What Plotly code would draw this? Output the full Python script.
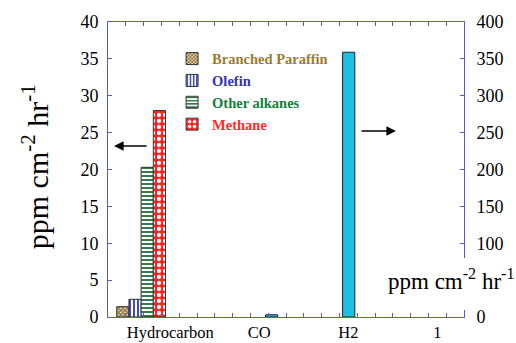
import plotly.graph_objects as go

categories = ["Hydrocarbon", "CO", "H2", "1"]
hc_series = ["Branched Paraffin", "Olefin", "Other alkanes", "Methane"]
hc_values = [1.4, 2.4, 20.3, 28.0]          # left axis, ppm cm^-2 hr^-1
gas_labels = ["CO", "H2"]
gas_values = [3.0, 359.0]                    # right axis, ppm cm^-2 hr^-1
left_ticks = [0, 5, 10, 15, 20, 25, 30, 35, 40]
right_ticks = [0, 100, 150, 200, 250, 300, 350, 400]

SERIF = "Liberation Serif"
AXC = "#5a5ac8"
BW = 0.137

styles = {
    "Branched Paraffin": dict(text="#9c7c2c", pat=dict(shape="x", fgcolor="#6e5526", bgcolor="#e6d6ac", size=3, solidity=0.5)),
    "Olefin": dict(text="#3535b0", pat=dict(shape="|", fgcolor="#2a35c0", bgcolor="white", size=4, solidity=0.45)),
    "Other alkanes": dict(text="#10803c", pat=dict(shape="-", fgcolor="#1f6b3a", bgcolor="white", size=4, solidity=0.45)),
    "Methane": dict(text="#ff2a2a", pat=dict(shape=".", fgcolor="white", bgcolor="#ff2020", size=6, solidity=0.4)),
}
hc_offsets = [-0.602, -0.465, -0.328, -0.191]

fig = go.Figure()
xpos = {c: i + 1 for i, c in enumerate(categories)}

for name, val, off in zip(hc_series, hc_values, hc_offsets):
    st = styles[name]
    fig.add_trace(go.Bar(
        x=[xpos["Hydrocarbon"]], y=[val], width=BW, offset=off,
        name=f"<span style='color:{st['text']}'>{name}</span>",
        marker=dict(color=st["pat"]["bgcolor"], pattern=dict(fillmode="replace", **st["pat"]),
                    line=dict(color="#333333", width=1)),
        yaxis="y", showlegend=True,
    ))

gas_offsets = {"CO": 0.07, "H2": -0.064}
for lab, val in zip(gas_labels, gas_values):
    fig.add_trace(go.Bar(
        x=[xpos[lab]], y=[val], width=BW, offset=gas_offsets[lab],
        marker=dict(color="#1ebfe0", line=dict(color="#222222", width=1)),
        yaxis="y2", showlegend=False,
    ))

minor_vals = [0.5 + 0.2 * k for k in range(19)]
TF = dict(family=SERIF, size=18, color="black")

fig.update_layout(
    width=516, height=343,
    margin=dict(l=108, r=52, t=22, b=26),
    paper_bgcolor="white", plot_bgcolor="white",
    barmode="overlay",
    font=dict(family=SERIF, size=17, color="black"),
    xaxis=dict(range=[0.3, 4.3], tickvals=[1, 2, 3, 4], ticktext=categories,
               ticks="", showgrid=False, zeroline=False, automargin=False,
               showline=True, linecolor=AXC, linewidth=1, mirror="allticks",
               ticklabelstandoff=0, tickfont=dict(family=SERIF, size=16.5, color="black"),
               minor=dict(tickvals=minor_vals, ticks="inside", ticklen=4, tickcolor=AXC)),
    yaxis=dict(range=[0, 40], tickvals=left_ticks, ticks="inside", ticklen=4, tickcolor=AXC,
               showgrid=False, zeroline=False, showline=True, linecolor=AXC, linewidth=1,
               ticklabelstandoff=5, automargin=False, tickfont=TF),
    yaxis2=dict(range=[0, 400], tickvals=right_ticks, overlaying="y", side="right",
                ticks="inside", ticklen=4, tickcolor=AXC, showgrid=False, zeroline=False,
                showline=True, linecolor=AXC, linewidth=1, ticklabelstandoff=8,
                automargin=False, tickfont=TF),
    legend=dict(x=0.18, y=0.93, xanchor="left", yanchor="top", bgcolor="rgba(0,0,0,0)",
                font=dict(family=SERIF, size=14.5, weight="bold"), tracegroupgap=0,
                itemwidth=30),
    showlegend=True,
)

# white gap in the right axis behind its label
fig.add_shape(type="rect", xref="paper", yref="paper", x0=0.99, x1=1.03,
              y0=(317 - 310) / 295, y1=(317 - 258) / 295, fillcolor="white",
              line=dict(width=0), layer="above")

fig.add_annotation(text="ppm cm<sup>-2</sup> hr<sup>-1</sup>", xref="paper", yref="paper",
                   x=-0.265, y=0.51, textangle=-90, showarrow=False,
                   font=dict(family=SERIF, size=30, color="black"))
fig.add_annotation(text="ppm cm<sup>-2</sup> hr<sup>-1</sup>", xref="paper", yref="paper",
                   x=1.146, y=(317 - 279) / 295, xanchor="right", yanchor="middle",
                   showarrow=False, font=dict(family=SERIF, size=23, color="black"))

# arrows pointing at the axes
fig.add_annotation(xref="paper", yref="paper", x=(114 - 108) / 356, y=(317 - 146) / 295,
                   ax=34, ay=0, text="", showarrow=True, arrowhead=2, arrowsize=1.2,
                   arrowwidth=1.6, arrowcolor="black")
fig.add_annotation(xref="paper", yref="paper", x=(396 - 108) / 356, y=(317 - 131) / 295,
                   ax=-36, ay=0, text="", showarrow=True, arrowhead=2, arrowsize=1.2,
                   arrowwidth=1.6, arrowcolor="black")

fig.write_html("out.html")
